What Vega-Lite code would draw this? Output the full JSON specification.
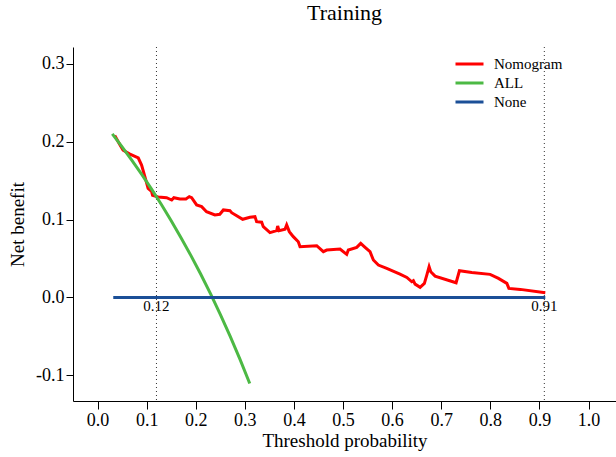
{
  "$schema": "https://vega.github.io/schema/vega-lite/v6.json",
  "width": 543,
  "height": 354,
  "autosize": {"type": "none"},
  "padding": {"left": 73, "top": 47, "right": 0, "bottom": 56},
  "background": "white",
  "title": {"text": "Training", "font": "Liberation Serif", "fontSize": 22, "fontWeight": "normal", "color": "black", "anchor": "middle", "offset": 22},
  "config": {
    "view": {"stroke": null},
    "axis": {"grid": false, "domainColor": "black", "tickColor": "black", "labelColor": "black", "titleColor": "black", "labelFont": "Liberation Serif", "titleFont": "Liberation Serif", "titleFontWeight": "normal", "domainWidth": 1, "tickWidth": 1}
  },
  "datasets": {
    "curves": [
      {"t": 0.035, "nb": 0.208, "model": "Nomogram"},
      {"t": 0.0455, "nb": 0.196, "model": "Nomogram"},
      {"t": 0.052, "nb": 0.189, "model": "Nomogram"},
      {"t": 0.066, "nb": 0.184, "model": "Nomogram"},
      {"t": 0.083, "nb": 0.179, "model": "Nomogram"},
      {"t": 0.0897, "nb": 0.170, "model": "Nomogram"},
      {"t": 0.0964, "nb": 0.155, "model": "Nomogram"},
      {"t": 0.103, "nb": 0.140, "model": "Nomogram"},
      {"t": 0.110, "nb": 0.136, "model": "Nomogram"},
      {"t": 0.112, "nb": 0.131, "model": "Nomogram"},
      {"t": 0.1235, "nb": 0.129, "model": "Nomogram"},
      {"t": 0.1406, "nb": 0.128, "model": "Nomogram"},
      {"t": 0.151, "nb": 0.125, "model": "Nomogram"},
      {"t": 0.1555, "nb": 0.128, "model": "Nomogram"},
      {"t": 0.1678, "nb": 0.1264, "model": "Nomogram"},
      {"t": 0.180, "nb": 0.1264, "model": "Nomogram"},
      {"t": 0.1868, "nb": 0.1294, "model": "Nomogram"},
      {"t": 0.1916, "nb": 0.128, "model": "Nomogram"},
      {"t": 0.2018, "nb": 0.1187, "model": "Nomogram"},
      {"t": 0.212, "nb": 0.1165, "model": "Nomogram"},
      {"t": 0.222, "nb": 0.110, "model": "Nomogram"},
      {"t": 0.239, "nb": 0.1058, "model": "Nomogram"},
      {"t": 0.249, "nb": 0.1067, "model": "Nomogram"},
      {"t": 0.2563, "nb": 0.1123, "model": "Nomogram"},
      {"t": 0.2697, "nb": 0.1114, "model": "Nomogram"},
      {"t": 0.2731, "nb": 0.1088, "model": "Nomogram"},
      {"t": 0.2956, "nb": 0.1003, "model": "Nomogram"},
      {"t": 0.3104, "nb": 0.1029, "model": "Nomogram"},
      {"t": 0.3206, "nb": 0.1037, "model": "Nomogram"},
      {"t": 0.324, "nb": 0.0972, "model": "Nomogram"},
      {"t": 0.3343, "nb": 0.0965, "model": "Nomogram"},
      {"t": 0.3376, "nb": 0.0908, "model": "Nomogram"},
      {"t": 0.3512, "nb": 0.0831, "model": "Nomogram"},
      {"t": 0.3649, "nb": 0.0857, "model": "Nomogram"},
      {"t": 0.3669, "nb": 0.0917, "model": "Nomogram"},
      {"t": 0.3696, "nb": 0.0857, "model": "Nomogram"},
      {"t": 0.3818, "nb": 0.0875, "model": "Nomogram"},
      {"t": 0.3852, "nb": 0.093, "model": "Nomogram"},
      {"t": 0.3906, "nb": 0.0844, "model": "Nomogram"},
      {"t": 0.3987, "nb": 0.078, "model": "Nomogram"},
      {"t": 0.4089, "nb": 0.0715, "model": "Nomogram"},
      {"t": 0.4124, "nb": 0.0651, "model": "Nomogram"},
      {"t": 0.4464, "nb": 0.0664, "model": "Nomogram"},
      {"t": 0.4599, "nb": 0.0587, "model": "Nomogram"},
      {"t": 0.4668, "nb": 0.0608, "model": "Nomogram"},
      {"t": 0.4939, "nb": 0.0621, "model": "Nomogram"},
      {"t": 0.5075, "nb": 0.0553, "model": "Nomogram"},
      {"t": 0.5108, "nb": 0.0608, "model": "Nomogram"},
      {"t": 0.5279, "nb": 0.0643, "model": "Nomogram"},
      {"t": 0.536, "nb": 0.0694, "model": "Nomogram"},
      {"t": 0.5449, "nb": 0.0643, "model": "Nomogram"},
      {"t": 0.555, "nb": 0.0587, "model": "Nomogram"},
      {"t": 0.5618, "nb": 0.048, "model": "Nomogram"},
      {"t": 0.572, "nb": 0.0415, "model": "Nomogram"},
      {"t": 0.589, "nb": 0.0373, "model": "Nomogram"},
      {"t": 0.616, "nb": 0.030, "model": "Nomogram"},
      {"t": 0.630, "nb": 0.0257, "model": "Nomogram"},
      {"t": 0.640, "nb": 0.0201, "model": "Nomogram"},
      {"t": 0.6433, "nb": 0.0214, "model": "Nomogram"},
      {"t": 0.6468, "nb": 0.0171, "model": "Nomogram"},
      {"t": 0.657, "nb": 0.0129, "model": "Nomogram"},
      {"t": 0.6657, "nb": 0.018, "model": "Nomogram"},
      {"t": 0.6706, "nb": 0.0287, "model": "Nomogram"},
      {"t": 0.6753, "nb": 0.0394, "model": "Nomogram"},
      {"t": 0.6787, "nb": 0.0329, "model": "Nomogram"},
      {"t": 0.6875, "nb": 0.0274, "model": "Nomogram"},
      {"t": 0.7303, "nb": 0.0188, "model": "Nomogram"},
      {"t": 0.7371, "nb": 0.0342, "model": "Nomogram"},
      {"t": 0.7623, "nb": 0.0321, "model": "Nomogram"},
      {"t": 0.7996, "nb": 0.0296, "model": "Nomogram"},
      {"t": 0.8166, "nb": 0.0244, "model": "Nomogram"},
      {"t": 0.8337, "nb": 0.018, "model": "Nomogram"},
      {"t": 0.8378, "nb": 0.0116, "model": "Nomogram"},
      {"t": 0.861, "nb": 0.0103, "model": "Nomogram"},
      {"t": 0.912, "nb": 0.0059, "model": "Nomogram"},
      {"t": 0.03, "nb": 0.2100, "model": "ALL"},
      {"t": 0.05, "nb": 0.1934, "model": "ALL"},
      {"t": 0.07, "nb": 0.1760, "model": "ALL"},
      {"t": 0.09, "nb": 0.1579, "model": "ALL"},
      {"t": 0.11, "nb": 0.1390, "model": "ALL"},
      {"t": 0.13, "nb": 0.1192, "model": "ALL"},
      {"t": 0.15, "nb": 0.0985, "model": "ALL"},
      {"t": 0.17, "nb": 0.0767, "model": "ALL"},
      {"t": 0.19, "nb": 0.0540, "model": "ALL"},
      {"t": 0.21, "nb": 0.0300, "model": "ALL"},
      {"t": 0.23, "nb": 0.0048, "model": "ALL"},
      {"t": 0.25, "nb": -0.0217, "model": "ALL"},
      {"t": 0.27, "nb": -0.0497, "model": "ALL"},
      {"t": 0.29, "nb": -0.0793, "model": "ALL"},
      {"t": 0.31, "nb": -0.1106, "model": "ALL"},
      {"t": 0.032, "nb": 0, "model": "None"},
      {"t": 0.912, "nb": 0, "model": "None"}
    ],
    "cuts": [
      {"t": 0.12, "label": "0.12"},
      {"t": 0.91, "label": "0.91"}
    ]
  },
  "layer": [
    {
      "data": {"name": "cuts"},
      "mark": {"type": "rule", "color": "#333333", "strokeWidth": 1, "strokeDash": [1, 3]},
      "encoding": {
        "x": {"field": "t", "type": "quantitative", "scale": {"domain": [-0.05, 1.056], "nice": false, "zero": false}}
      }
    },
    {
      "data": {"name": "curves"},
      "mark": {"type": "line", "strokeWidth": 3, "clip": true},
      "encoding": {
        "x": {"field": "t", "type": "quantitative", "scale": {"domain": [-0.05, 1.056], "nice": false, "zero": false},
          "axis": {"title": "Threshold probability", "titleFontSize": 19, "titlePadding": 2, "values": [0, 0.1, 0.2, 0.3, 0.4, 0.5, 0.6, 0.7, 0.8, 0.9, 1.0], "format": ".1f", "labelFontSize": 18, "tickSize": 8, "labelPadding": 2, "labelFlush": false, "labelOverlap": false}},
        "y": {"field": "nb", "type": "quantitative", "scale": {"domain": [-0.133, 0.3215], "nice": false, "zero": false},
          "axis": {"title": "Net benefit", "titleFontSize": 19, "titlePadding": 8, "values": [-0.1, 0, 0.1, 0.2, 0.3], "labelExpr": "datum.value < 0 ? '-' + format(-datum.value, '.1f') : format(datum.value, '.1f')", "labelFontSize": 18, "tickSize": 7, "labelPadding": 2, "labelFlush": false, "labelOverlap": false}},
        "color": {"field": "model", "type": "nominal",
          "scale": {"domain": ["Nomogram", "ALL", "None"], "range": ["#FF0000", "#4CB944", "#1B4F97"]},
          "legend": {"title": null, "orient": "none", "legendX": 381, "legendY": 9, "symbolType": "stroke", "symbolSize": 784, "symbolStrokeWidth": 3, "clipHeight": 16, "rowPadding": 3, "labelFont": "Liberation Serif", "labelFontSize": 15, "labelColor": "black", "labelOffset": 9, "padding": 0}}
      }
    },
    {
      "data": {"name": "cuts"},
      "mark": {"type": "text", "font": "Liberation Serif", "fontSize": 15, "color": "black", "baseline": "top", "align": "center", "dy": 2},
      "encoding": {
        "x": {"field": "t", "type": "quantitative"},
        "y": {"datum": 0, "type": "quantitative"},
        "text": {"field": "label"}
      }
    }
  ]
}
